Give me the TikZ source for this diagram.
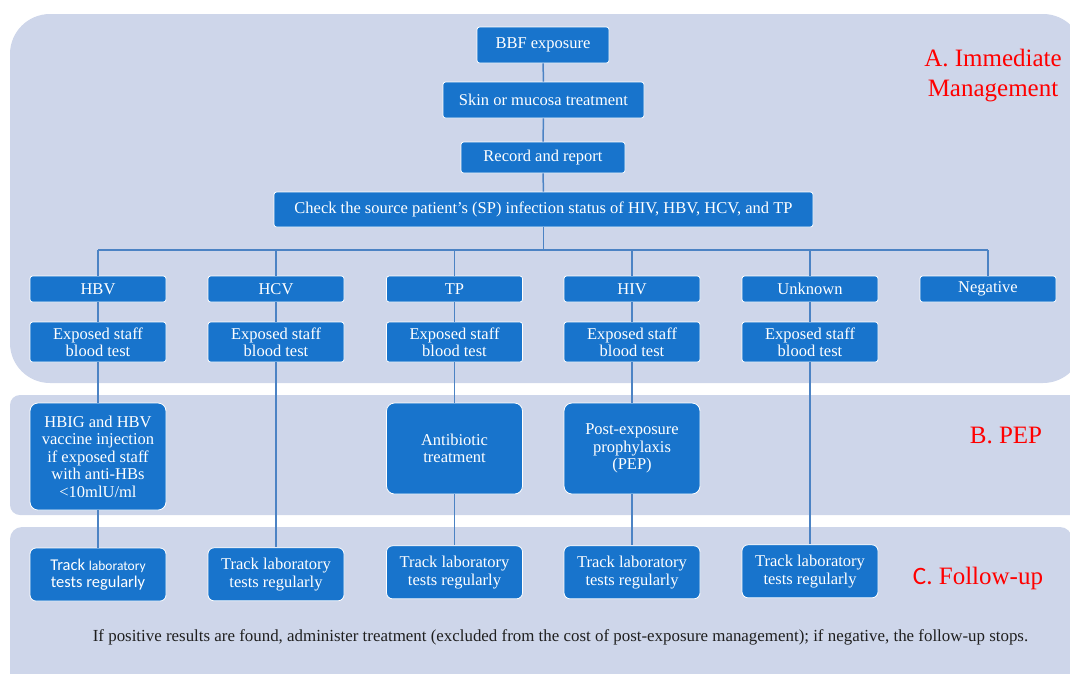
\documentclass[tikz,border=0pt]{standalone}
\usepackage{fontspec}
\setmainfont{Liberation Serif}
\newfontfamily\calfont{Carlito}
\definecolor{panelc}{RGB}{206,214,234}
\definecolor{boxc}{RGB}{24,116,204}
\definecolor{linec}{RGB}{76,131,196}
\definecolor{redc}{RGB}{255,0,0}
\begin{document}
\begin{tikzpicture}[x=1pt,y=-1pt,
  bx/.style={draw=white,line width=0.8pt,fill=boxc,text=white,align=center,inner sep=0pt,rounded corners=2.5pt,font=\fontsize{16.5}{17}\selectfont},
  bigbx/.style={bx,rounded corners=8pt,font=\fontsize{16.5}{17.5}\selectfont},
  trk/.style={bx,rounded corners=6pt,minimum width=136pt,minimum height=53pt,font=\fontsize{16.5}{17.5}\selectfont},
  cat/.style={bx,minimum width=136pt,minimum height=26pt},
  exp/.style={bx,minimum width=136pt,minimum height=40pt},
  conn/.style={draw=linec,line width=1.5pt},
  lab/.style={text=redc,font=\fontsize{25}{30}\selectfont,align=center,inner sep=0pt}]
\useasboundingbox (0,0) rectangle (1070,673);
% panels
\fill[panelc,rounded corners=40pt] (10,14) rectangle (1083,383);
\fill[panelc,rounded corners=10pt] (10,395) rectangle (1083,515);
\fill[panelc,rounded corners=12pt] (10,527) rectangle (1072,700);
% top chain
\node[bx,minimum width=132pt,minimum height=36pt] (bbf) at (543,45) {BBF exposure};
\node[bx,minimum width=201pt,minimum height=36pt] (skin) at (543.5,100) {Skin or mucosa treatment};
\node[bx,minimum width=164pt,minimum height=31pt] (rec) at (543,157.5) {Record and report};
\node[bx,minimum width=539pt,minimum height=35pt] (chk) at (543.5,209.5) {Check the source patient’s (SP) infection status of HIV, HBV, HCV, and TP};
\coordinate (bus) at (0,250);
% categories
\node[cat] (c1) at (98,289) {HBV};
\node[cat] (c2) at (276,289) {HCV};
\node[cat] (c3) at (454.5,289) {TP};
\node[cat] (c4) at (632,289) {HIV};
\node[cat] (c5) at (810,289) {Unknown};
\node[cat] (c6) at (988,289) {Negative};
% exposed staff
\node[exp] (e1) at (98,342) {Exposed staff\\blood test};
\node[exp] (e2) at (276,342) {Exposed staff\\blood test};
\node[exp] (e3) at (454.5,342) {Exposed staff\\blood test};
\node[exp] (e4) at (632,342) {Exposed staff\\blood test};
\node[exp] (e5) at (810,342) {Exposed staff\\blood test};
% PEP row
\node[bigbx,minimum width=136pt,minimum height=107pt] (p1) at (98,456.5) {HBIG and HBV\\vaccine injection\\if exposed staff\\with anti-HBs\\<10mlU/ml};
\node[bigbx,minimum width=136pt,minimum height=91pt] (p3) at (454.5,448.5) {Antibiotic\\treatment};
\node[bigbx,minimum width=136pt,minimum height=91pt] (p4) at (632,448.5) {Post-exposure\\prophylaxis\\(PEP)};
% follow-up
\node[trk,font=\calfont\fontsize{16.5}{17.5}\selectfont] (t1) at (98,574.5) {Track {\fontsize{13.5}{17.5}\selectfont laboratory}\\tests regularly};
\node[trk] (t2) at (276,574.3) {Track laboratory\\tests regularly};
\node[trk] (t3) at (454.5,572.3) {Track laboratory\\tests regularly};
\node[trk] (t4) at (632,572.3) {Track laboratory\\tests regularly};
\node[trk] (t5) at (810,571.3) {Track laboratory\\tests regularly};
% connectors
\draw[conn] (bbf) -- (skin);
\draw[conn] (skin) -- (rec);
\draw[conn] (rec) -- (chk);
\draw[conn] (chk.south) -- (chk.south |- bus);
\draw[conn] (c1.north |- bus) -- (c6.north |- bus);
\foreach \c in {c1,c2,c3,c4,c5,c6} {\draw[conn] (\c.north |- bus) -- (\c.north);}
\draw[conn] (c1) -- (e1);
\draw[conn] (c2) -- (e2);
\draw[conn] (c3) -- (e3);
\draw[conn] (c4) -- (e4);
\draw[conn] (c5) -- (e5);
\draw[conn] (e1) -- (p1);
\draw[conn] (p1) -- (t1);
\draw[conn] (e2) -- (t2);
\draw[conn] (e3) -- (p3);
\draw[conn] (p3) -- (t3);
\draw[conn] (e4) -- (p4);
\draw[conn] (p4) -- (t4);
\draw[conn] (e5) -- (t5);
% labels
\node[lab] (la) at (993,76) {A. Immediate\\Management};
\node[lab] (lb) at (1006,435) {B. PEP};
\node[lab] (lc) at (978,578) {{\calfont C.} Follow-up};
\node[text=black!88,font=\fontsize{16.9}{19}\selectfont,inner sep=0pt] (note) at (560.5,637) {If positive results are found, administer treatment (excluded from the cost of post-exposure management); if negative, the follow-up stops.};
\end{tikzpicture}
\end{document}
